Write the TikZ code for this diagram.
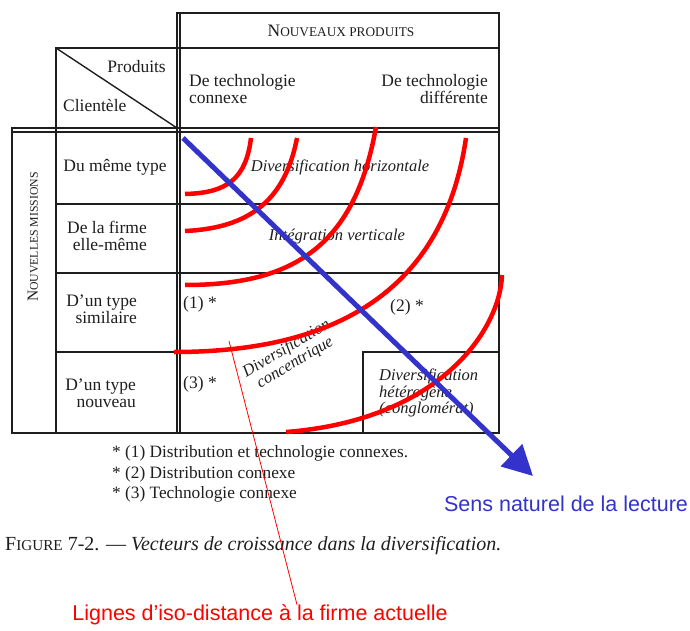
\documentclass[tikz,border=0pt]{standalone}
\usepackage{graphicx}
\usepackage{fontspec}
\setmainfont{Liberation Serif}
\newfontfamily\annotfont{Liberation Sans}
\usetikzlibrary{shapes,arrows,arrows.meta,positioning}
\definecolor{isored}{RGB}{255,0,0}
\definecolor{lectblue}{RGB}{51,51,204}
\definecolor{scanink}{RGB}{30,30,30}
\newcommand{\pcap}[1]{\scalebox{0.76}{#1}}

\begin{document}
\begin{tikzpicture}
                [
                    x=1pt, y=-1pt,
                    gridline/.style={draw=scanink, line width=1.4pt},
                    celltext/.style={text=scanink, font=\fontsize{17.5}{17}\selectfont, align=center, inner sep=0pt},
                    italictext/.style={celltext, font=\fontsize{16.5}{16.5}\selectfont\itshape},
                    isoline/.style={draw=isored, line width=4.5pt},
                    notelabel/.style={font=\annotfont\fontsize{21.5}{24}\selectfont, inner sep=0pt},
                ]

                \useasboundingbox (0,0) rectangle (690,631);

                % table
                \draw[gridline] (177,13) rectangle (499,433);
                \draw[gridline] (180,13) -- (180,433);
                \draw[gridline] (177,48) -- (499,48);
                \draw[gridline] (56,48) rectangle (177,128);
                \draw[gridline] (56,48) -- (177,128);
                \draw[gridline] (12,128) -- (499,128);
                \draw[gridline] (12,132) -- (499,132);
                \draw[gridline] (12,128) rectangle (56,433);
                \draw[gridline] (56,433) -- (177,433);
                \foreach \rowy in {204,273}
                    \draw[gridline] (56,\rowy) -- (499,\rowy);
                \draw[gridline] (56,352) -- (177,352);
                \draw[gridline] (363,352) rectangle (499,433);

                \node [celltext] (nouveaux) at (341,31) {N\pcap{OUVEAUX PRODUITS}};
                \node [celltext, anchor=east] (produits) at (166,67) {Produits};
                \node [celltext, anchor=west] (clientele) at (63,106) {Clientèle};
                \node [celltext, align=left, anchor=west] (connexe) at (189,89) {De technologie\\connexe};
                \node [celltext, align=right, anchor=east] (differente) at (488,89) {De technologie\\différente};
                \node [celltext, rotate=90, font=\fontsize{15.5}{16}\selectfont] (missions) at (33,237) {N\pcap{OUVELLES MISSIONS}};
                \node [celltext] (memetype) at (115,167) {Du même type};
                \node [celltext, align=right, anchor=east] (firme) at (147,236) {De la firme\\elle-même};
                \node [celltext, align=right, anchor=east] (similaire) at (137,309) {D'un type\\similaire};
                \node [celltext, align=right, anchor=east] (nouveau) at (136,393) {D'un type\\nouveau};

                \node [italictext] (horizontale) at (340,167) {Diversification horizontale};
                \node [italictext] (verticale) at (337,237) {Intégration verticale};
                \node [celltext] (renvoi1) at (200,304) {(1) *};
                \node [celltext] (renvoi2) at (407,307) {(2) *};
                \node [celltext] (renvoi3) at (200,384) {(3) *};
                \node [italictext, align=center, rotate=31] (concentrique) at (291,356) {Diversification\\concentrique};
                \node [italictext, align=left, anchor=west] (heterogene) at (379,393) {Diversification\\hétérogène\\(conglomérat)};

                \node [celltext, align=left, anchor=west, font=\fontsize{17.3}{20.5}\selectfont] (renvois) at (112,474) {* (1) Distribution et technologie connexes.\\* (2) Distribution connexe\\* (3) Technologie connexe};
                \node [celltext, anchor=west, font=\fontsize{20}{20}\selectfont] (legende) at (5,546) {F\pcap{IGURE} 7-2. --- \textit{Vecteurs de croissance dans la diversification.}};

                \node [notelabel, text=lectblue] (sens) at (566,504) {Sens naturel de la lecture};
                \node [notelabel, text=isored] (lignes) at (260,615) {Lignes d’iso-distance à la firme actuelle};

                % iso-distance lines
                \draw[isoline] (251,138) .. controls (246,178) and (228,193) .. (185,194);
                \draw[isoline] (297,138) .. controls (285,200) and (250,228) .. (185,231);
                \draw[isoline] (376,127) .. controls (355,245) and (295,285) .. (185,285);
                \draw[isoline] (466,138) .. controls (445,280) and (350,352) .. (174,352);
                \draw[isoline] (502,275) .. controls (500,330) and (440,420) .. (286,432);

                \coordinate (isofoot) at (229,341);
                \draw[isored, line width=0.8pt] (isofoot) -- ([xshift=37pt]lignes.north);

                \coordinate (coin) at (183,138);
                \coordinate (pointe) at (533,476);
                \draw[lectblue, line width=5pt, -{Triangle[length=30pt,width=30pt]}] (coin) -- (pointe);

            \end{tikzpicture}
\end{document}
